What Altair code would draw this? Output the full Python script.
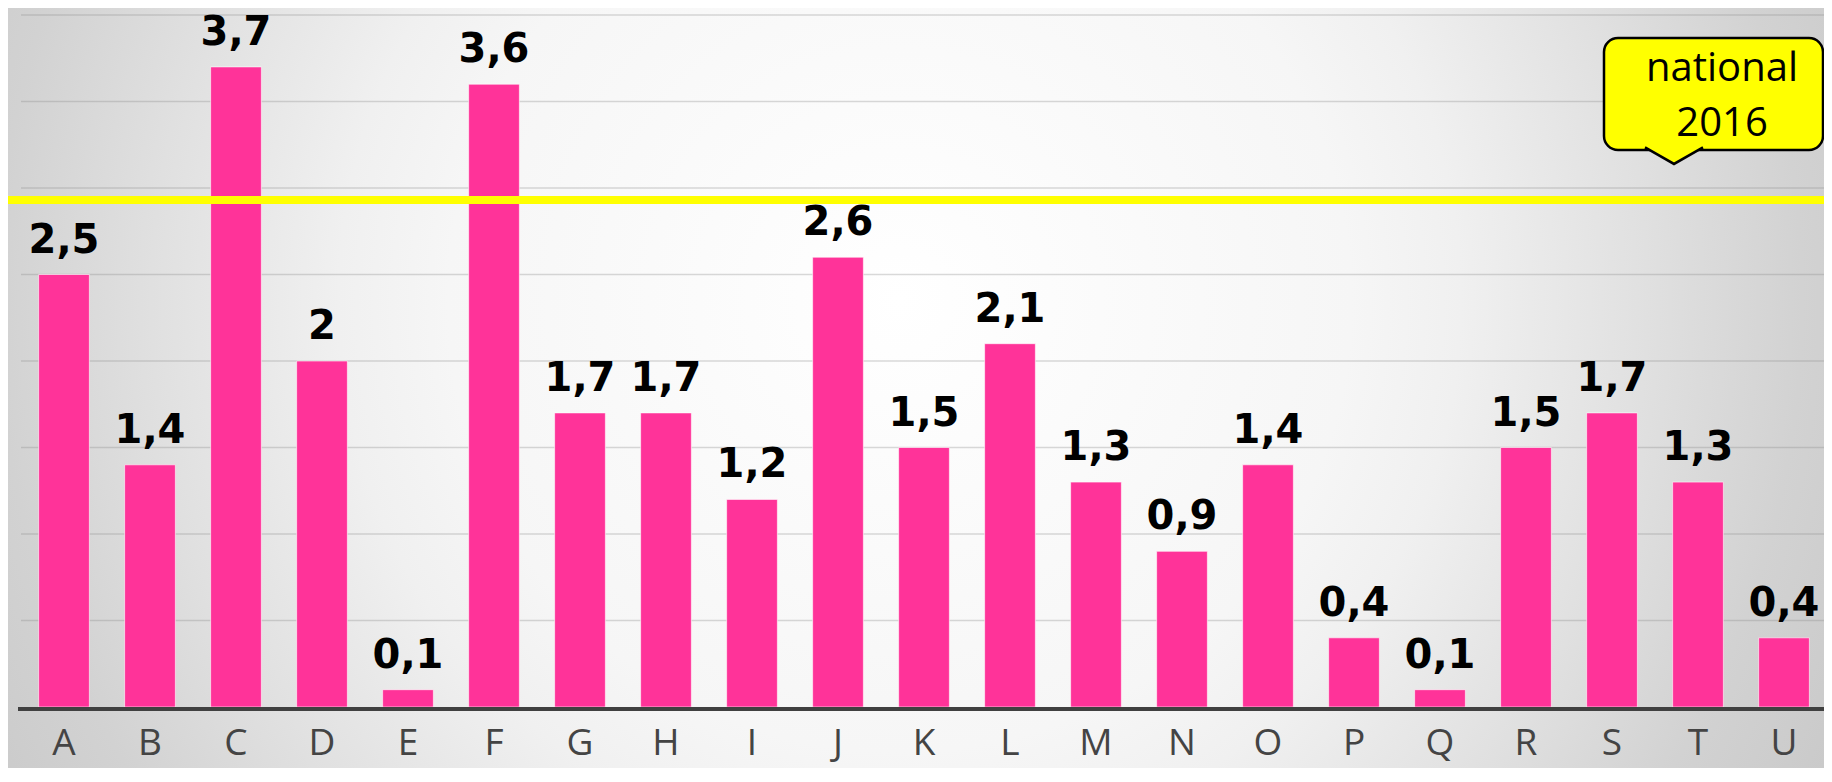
import altair as alt
import pandas as pd

# ---- data ----
categories = list("ABCDEFGHIJKLMNOPQRSTU")
values = [2.5, 1.4, 3.7, 2.0, 0.1, 3.6, 1.7, 1.7, 1.2, 2.6, 1.5,
          2.1, 1.3, 0.9, 1.4, 0.4, 0.1, 1.5, 1.7, 1.3, 0.4]
national_2016 = [2.93]
gridlines = [0.5, 1.0, 1.5, 2.0, 2.5, 3.0, 3.5, 4.0]
baseline_value = [0.0]
callout_lines = ["national", "2016"]

W, H = 1816, 760

bars_df = pd.DataFrame({"cat": categories, "v": values})
grid_df = pd.DataFrame({"g": gridlines})
nat_df = pd.DataFrame({"n": national_2016})
base_df = pd.DataFrame({"b": baseline_value})
callout_df = pd.DataFrame({"line1": [callout_lines[0]], "line2": [callout_lines[1]]})

yscale = alt.Scale(domain=[0, 4], range=[699, 7], nice=False, zero=True)
xscale = alt.Scale(domain=categories, range=[13, 1819],
                   paddingInner=0.41, paddingOuter=0.205)

x_enc = alt.X("cat:N", sort=categories, scale=xscale,
              axis=alt.Axis(title=None, domain=False, ticks=False, tickSize=0,
                            grid=False, labelAngle=0, labelFont="Open Sans",
                            labelFontSize=37, labelColor="#444444",
                            labelPadding=0, labelBaseline="alphabetic",
                            offset=-14, zindex=2))

bg_gradient = alt.RadialGradient(
    gradient="radial",
    x1=0.491, y1=0.452, r1=0,
    x2=0.491, y2=0.452, r2=0.606,
    stops=[
        alt.GradientStop(offset=0.0, color="#ffffff"),
        alt.GradientStop(offset=0.41, color="#f6f6f6"),
        alt.GradientStop(offset=0.51, color="#f0f0f0"),
        alt.GradientStop(offset=0.68, color="#e0e0e0"),
        alt.GradientStop(offset=0.82, color="#d2d2d2"),
        alt.GradientStop(offset=1.0, color="#c6c6c6"),
    ],
)

background = alt.Chart(callout_df).mark_rect(fill=bg_gradient, strokeWidth=0).encode(
    x=alt.value(0), x2=alt.value(W), y=alt.value(0), y2=alt.value(H))

grid = alt.Chart(grid_df).mark_rule(color="#888888", strokeOpacity=0.32,
                                    strokeWidth=1.5).encode(
    y=alt.Y("g:Q", scale=yscale, axis=None),
    x=alt.value(13), x2=alt.value(W))

bars = alt.Chart(bars_df).mark_bar(color="#FF3399", stroke="#ffffff",
                                   strokeWidth=1, strokeOpacity=0.6).encode(
    x=x_enc,
    y=alt.Y("v:Q", scale=yscale, axis=None))

labels = alt.Chart(bars_df).transform_calculate(
    label="replace(format(datum.v, '.1~f'), '.', ',')"
).mark_text(font="DejaVu Sans", fontWeight="bold", fontSize=40,
            baseline="alphabetic", align="center", dy=-22, color="#000000").encode(
    x=alt.X("cat:N", sort=categories, scale=xscale),
    y=alt.Y("v:Q", scale=yscale, axis=None),
    text="label:N")

national = alt.Chart(nat_df).mark_rule(color="#FFFF00", strokeWidth=8).encode(
    y=alt.Y("n:Q", scale=yscale, axis=None))

base = alt.Chart(base_df).mark_rule(color="#404040", strokeWidth=4, yOffset=2).encode(
    y=alt.Y("b:Q", scale=yscale, axis=None),
    x=alt.value(10), x2=alt.value(W))

box = alt.Chart(callout_df).mark_rect(fill="#FFFF00", stroke="#000000",
                                      strokeWidth=2.5, cornerRadius=14).encode(
    x=alt.value(1596), x2=alt.value(1815), y=alt.value(30), y2=alt.value(142))

pointer = alt.Chart(callout_df).mark_point(
    shape="M-1,-0.33L0,0.24L1,-0.33", size=3364, filled=True,
    fill="#FFFF00", stroke="#000000", strokeWidth=2.5,
    opacity=1, fillOpacity=1, strokeOpacity=1).encode(
    x=alt.value(1666), y=alt.value(149))

t1 = alt.Chart(callout_df).mark_text(font="Open Sans", fontSize=40, color="#000000",
                                     align="center", baseline="alphabetic").encode(
    x=alt.value(1714), y=alt.value(73), text="line1:N")
t2 = alt.Chart(callout_df).mark_text(font="Open Sans", fontSize=40, color="#000000",
                                     align="center", baseline="alphabetic").encode(
    x=alt.value(1714), y=alt.value(128), text="line2:N")

chart = alt.layer(background, grid, bars, national, base, labels, box, pointer, t1, t2).properties(
    width=W, height=H,
    autosize=alt.AutoSizeParams(type="none"),
    padding=0,
    background="#cfcfcf",
).configure_view(stroke=None, strokeWidth=0)

chart.save("out.html", embed_options={"renderer": "svg", "actions": False})
